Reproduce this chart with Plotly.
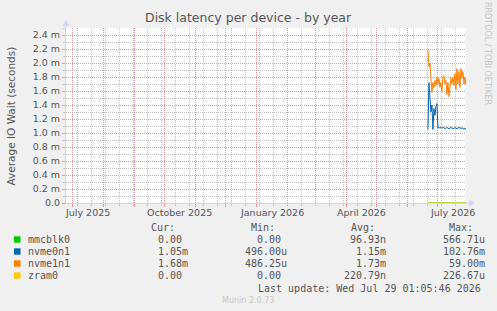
import datetime as dt
import plotly.graph_objects as go

# ---------------- data ----------------
start_day = dt.date(2026, 6, 21)
n_days = 39
dates = [(start_day + dt.timedelta(days=i)).isoformat() for i in range(n_days)]

# values in milliseconds
nvme0n1 = [1.05, 1.72, 1.50, 1.30, 1.40, 1.05, 1.35, 1.25, 1.38, 1.42, 1.07,
           1.08, 1.07, 1.08, 1.07, 1.07, 1.08, 1.06, 1.07, 1.08, 1.07, 1.06,
           1.07, 1.08, 1.07, 1.07, 1.06, 1.08, 1.07, 1.06, 1.07, 1.08, 1.07,
           1.07, 1.06, 1.07, 1.05, 1.07, 1.05]
nvme1n1 = [2.19, 1.95, 2.00, 1.75, 1.58, 1.72, 1.65, 1.75, 1.68, 1.80, 1.70,
           1.78, 1.65, 1.72, 1.60, 1.80, 1.82, 1.70, 1.75, 1.55, 1.72, 1.52,
           1.70, 1.78, 1.70, 1.80, 1.68, 1.85, 1.62, 1.92, 1.70, 1.88, 1.65,
           1.92, 1.78, 1.88, 1.70, 1.80, 1.68]
mmcblk0 = [0.0] * n_days
zram0 = [0.0] * n_days

series_names = ["mmcblk0", "nvme0n1", "nvme1n1", "zram0"]
series_values = [mmcblk0, nvme0n1, nvme1n1, zram0]
series_colors = ["#00CC00", "#0066B3", "#FF8000", "#FFCC00"]

cur_vals = ["0.00", "1.05m", "1.68m", "0.00"]
min_vals = ["0.00", "496.00u", "486.25u", "0.00"]
avg_vals = ["96.93n", "1.15m", "1.73m", "220.79n"]
max_vals = ["566.71u", "102.76m", "59.00m", "226.67u"]

y_tick_vals = [0.0, 0.2, 0.4, 0.6, 0.8, 1.0, 1.2, 1.4, 1.6, 1.8, 2.0, 2.2, 2.4]
y_tick_text = ["0.0", "0.2 m", "0.4 m", "0.6 m", "0.8 m", "1.0 m", "1.2 m",
               "1.4 m", "1.6 m", "1.8 m", "2.0 m", "2.2 m", "2.4 m"]
y_minor_vals = [0.1, 0.3, 0.5, 0.7, 0.9, 1.1, 1.3, 1.5, 1.7, 1.9, 2.1, 2.3, 2.5]

x_start = "2025-06-24 01:05:46"
x_end = "2026-07-29 01:05:46"
month_starts = ["2025-07-01", "2025-08-01", "2025-09-01", "2025-10-01",
                "2025-11-01", "2025-12-01", "2026-01-01", "2026-02-01",
                "2026-03-01", "2026-04-01", "2026-05-01", "2026-06-01",
                "2026-07-01"]
x_label_pos = ["2025-07-16", "2025-10-16", "2026-01-16", "2026-04-16", "2026-07-16"]
x_label_text = ["July 2025", "October 2025", "January 2026", "April 2026", "July 2026"]
# minor grid: every second Sunday
first_minor = dt.date(2025, 7, 6)
x_minor_vals = [(first_minor + dt.timedelta(days=14 * k)).isoformat() for k in range(28)]

title = "Disk latency per device - by year"
y_title = "Average IO Wait (seconds)"
last_update = "Last update: Wed Jul 29 01:05:46 2026"

# ---------------- layout helpers ----------------
W, H = 497, 311
L, R, T, B = 66, 31, 28, 108
PW, PH = W - L - R, H - T - B


def px(x):
    return (x - L) / PW


def py(y):
    return (H - B - y) / PH


TXT = "#555555"
MONO = "DejaVu Sans Mono"
SANS = "DejaVu Sans"

fig = go.Figure()
for name, vals, col in zip(series_names, series_values, series_colors):
    fig.add_trace(go.Scatter(x=dates, y=vals, mode="lines", name=name,
                             line=dict(color=col, width=1), cliponaxis=False,
                             showlegend=False))

ann = []


def add_text(text, x, y, font, xanchor="center", yanchor="middle", xref="paper",
             angle=0):
    ann.append(dict(text=text, x=x, y=y, xref=xref, yref="paper",
                    xanchor=xanchor, yanchor=yanchor, showarrow=False,
                    textangle=angle, font=font))


add_text(title, px(248), py(18), dict(family=SANS, size=12.5, color=TXT))
add_text(y_title, px(10), py(115.5), dict(family=SANS, size=10.5, color=TXT), angle=-90)
add_text("RRDTOOL / TOBI OETIKER", px(488), py(53),
         dict(family=SANS, size=8, color="#c4c4c4"), angle=90)
for xp, xt in zip(x_label_pos, x_label_text):
    add_text(xt, xp, py(212.5), dict(family=SANS, size=9.5, color=TXT), xref="x")

CW = 6.02
MF = dict(family=MONO, size=10, color=TXT)
headers = [("Cur:", 149), ("Min:", 249), ("Avg:", 349), ("Max:", 447)]
for h, hx in headers:
    add_text(h, px(hx), py(227.5), MF, xanchor="left")

col_starts = [143.6, 243.3, 342.0, 441.0]
row_y = [239.5, 251.5, 263.5, 275.5]


def lead_pad(s):
    num = s.rstrip("munk")
    return max(0, 6 - len(num))


for i, name in enumerate(series_names):
    yy = row_y[i]
    fig.add_shape(type="rect", xref="paper", yref="paper",
                  x0=px(14), x1=px(20.5), y0=py(yy - 3.2), y1=py(yy + 3.2),
                  fillcolor=series_colors[i], line=dict(width=0))
    add_text(name, px(26), py(yy), MF, xanchor="left")
    for cx, vals in zip(col_starts, [cur_vals, min_vals, avg_vals, max_vals]):
        s = vals[i]
        add_text(s, px(cx + lead_pad(s) * CW), py(yy), MF, xanchor="left")

add_text(last_update, px(483), py(288), MF, xanchor="right")
add_text("Munin 2.0.73", px(248), py(300), dict(family=SANS, size=8, color="#c8c8c8"))

# axis arrows
AX = "#CFD6F8"
fig.add_shape(type="line", xref="paper", yref="paper", x0=1, x1=px(470),
              y0=0, y1=0, line=dict(color=AX, width=1))
fig.add_shape(type="path", xref="paper", yref="paper",
              path=f"M {px(469)} {py(199.5)} L {px(475)} {py(203)} L {px(469)} {py(206.5)} Z",
              fillcolor=AX, line=dict(color=AX, width=0))
fig.add_shape(type="line", xref="paper", yref="paper", x0=0, x1=0,
              y0=1, y1=py(24), line=dict(color=AX, width=1))
fig.add_shape(type="path", xref="paper", yref="paper",
              path=f"M {px(62.5)} {py(26)} L {px(66)} {py(20)} L {px(69.5)} {py(26)} Z",
              fillcolor=AX, line=dict(color=AX, width=0))

MG = "#E59A9A"
mg = "#C4C4C4"
DASH = "1px,1px"
fig.update_layout(
    width=W, height=H,
    margin=dict(l=L, r=R, t=T, b=B, pad=0),
    paper_bgcolor="#F0F0F0", plot_bgcolor="#FFFFFF",
    annotations=ann,
    xaxis=dict(type="date", range=[x_start, x_end], tickmode="array",
               tickvals=month_starts, ticktext=[""] * len(month_starts),
               showgrid=True, gridcolor=MG, griddash=DASH, gridwidth=1,
               ticks="outside", ticklen=3, tickcolor=MG,
               showline=True, linecolor=AX, linewidth=1, layer="below traces",
               zeroline=False, fixedrange=True,
               minor=dict(tickmode="array", tickvals=x_minor_vals,
                          showgrid=True, gridcolor=mg, griddash=DASH, gridwidth=1,
                          ticks="outside", ticklen=2, tickcolor=mg)),
    yaxis=dict(range=[0, 2.5], tickmode="array", tickvals=y_tick_vals,
               ticktext=y_tick_text, showgrid=True, gridcolor=MG, griddash=DASH,
               gridwidth=1, ticks="outside", ticklen=3, tickcolor=MG,
               tickfont=dict(family=SANS, size=9.5, color=TXT),
               showline=True, linecolor=AX, linewidth=1, layer="below traces",
               zeroline=False, fixedrange=True,
               minor=dict(tickmode="array", tickvals=y_minor_vals, showgrid=True,
                          gridcolor=mg, griddash=DASH, gridwidth=1,
                          ticks="outside", ticklen=2, tickcolor=mg)),
    showlegend=False,
)

fig.write_html("out.html", config={"displayModeBar": False})
